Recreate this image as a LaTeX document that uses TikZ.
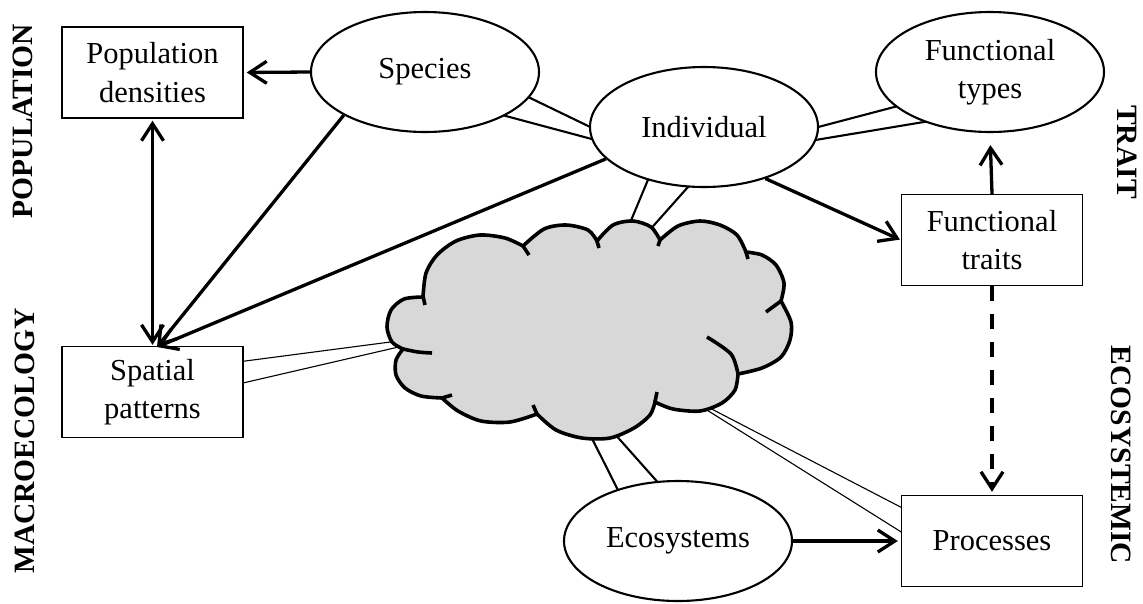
\documentclass[tikz,border=0pt]{standalone}
\usepackage{fontspec}
\setmainfont{Liberation Serif}
\usetikzlibrary{arrows.meta,shapes.geometric,calc}
\begin{document}
\begin{tikzpicture}[x=1pt,y=-1pt,
  txt/.style={font=\fontsize{30.5}{38.5}\selectfont, align=center},
  bx/.style={txt, draw, line width=1.4pt, fill=white, minimum width=181pt, minimum height=91pt, inner sep=0pt},
  ell/.style={txt, ellipse, draw, line width=2.1pt, fill=white, minimum width=228pt, minimum height=120pt, inner sep=0pt},
  side/.style={font=\fontsize{29.5}{35}\selectfont\bfseries, inner sep=0pt},
  arr/.style={line width=3.3pt, -{Straight Barb[length=17pt,width=22pt]}},
  darr/.style={line width=3.3pt, {Straight Barb[length=17pt,width=22pt]}-{Straight Barb[length=17pt,width=22pt]}},
  tailE/.style={draw, fill=white, line width=2.1pt, line join=miter},
  tailB/.style={draw, fill=white, line width=1.1pt, line join=miter},
  cloudline/.style={line width=3.6pt},
]
\fill[white] (0,0) rectangle (1143,603);
\useasboundingbox (0,0) rectangle (1143,603);

% callout tails
\filldraw[tailE] (493,80) -- (644,153) -- (461,104) -- cycle;
\filldraw[tailE] (660,151) -- (607,278) -- (712,160) -- cycle;
\filldraw[tailE] (936,96) -- (689,161) -- (972,114) -- cycle;
\filldraw[tailE] (630,514) -- (557,369) -- (678,505) -- cycle;
\filldraw[tailB] (230,363) -- (459,333) -- (230,386) -- cycle;
\filldraw[tailB] (914,514) -- (675,390) -- (914,540) -- cycle;

% boxes
\node[bx] (Pop) at (152.5,72.5) {Population\\densities};
\node[bx] (Spa) at (152.5,392) {Spatial\\patterns};
\node[bx] (FTr) at (992,240) {Functional\\traits};
\node[bx] (Proc) at (992,541) {Processes};

% ellipses
\node[ell] (Sp) at (425,72) {Species};
\node[ell] (Ind) at (704,127) {Individual};
\node[ell] (FTy) at (990,72) {Functional\\types};
\node[ell] (Eco) at (678,541) {Ecosystems};

% cloud
\filldraw[cloudline, fill={rgb,255:red,216;green,216;blue,216}]
  plot[smooth] coordinates {(423,297) (404,299) (391,310) (387,327) (392,342) (403,349)}
  -- plot[smooth] coordinates {(403,349) (396,360) (396,375) (405,388) (421,396) (442,398)}
  -- plot[smooth] coordinates {(442,398) (458,411) (481,421) (510,422) (537,414)}
  -- plot[smooth] coordinates {(537,414) (556,430) (582,438) (610,438) (634,428) (650,415) (655,402)}
  -- plot[smooth] coordinates {(655,402) (673,409) (700,411) (722,403) (735,390) (738,374)}
  -- plot[smooth] coordinates {(738,374) (762,368) (781,357) (790,340) (791,322) (781,301)}
  -- plot[smooth] coordinates {(781,301) (784,283) (776,265) (762,255) (746,252)}
  -- plot[smooth] coordinates {(746,252) (737,235) (720,225) (700,221) (678,226) (660,240)}
  -- plot[smooth] coordinates {(660,240) (651,227) (633,221) (613,225) (597,241)}
  -- plot[smooth] coordinates {(597,241) (588,230) (566,225) (544,229) (523,246)}
  -- plot[smooth] coordinates {(523,246) (505,238) (480,235) (456,241) (437,255) (426,273) (423,297)}
  -- cycle;
\draw[cloudline] (423,296) -- (425,305);
\draw[cloudline] plot[smooth] coordinates {(403,349) (418,352) (432,353)};
\draw[cloudline] (442,398) -- (452,395);
\draw[cloudline] (537,414) -- (533,405);
\draw[cloudline] (655,402) -- (657,392);
\draw[cloudline] plot[smooth] coordinates {(738,374) (731,354) (707,337)};
\draw[cloudline] (781,301) -- (766,312);
\draw[cloudline] (746,252) -- (748,259);
\draw[cloudline] (660,240) -- (658,246);
\draw[cloudline] (597,241) -- (599,248);
\draw[cloudline] (523,246) -- (529,255);

% connectors
\coordinate (spHit) at (157,347);
\draw[arr, shorten >=3pt] (Sp.west) -- (Pop.east);
\draw[darr, shorten <=2pt, shorten >=1pt] (Pop.south) -- (Spa.north);
\draw[arr] (Sp.208) -- (spHit);
\draw[arr] (Ind.198) -- (spHit);
\draw[arr, shorten >=1pt] (Ind.320) -- (FTr.west);
\draw[arr, shorten >=12pt] (FTr.north) -- (FTy.south);
\draw[arr, dash pattern=on 15pt off 13pt, shorten >=3pt] (FTr.south) -- (Proc.north);
\draw[arr, shorten >=3pt] (Eco.east) -- (Proc.west);

% side labels
\node[side, rotate=90] (lPop) at (23,121) {POPULATION};
\node[side, rotate=90] (lMac) at (25,441) {MACROECOLOGY};
\node[side, rotate=-90] (lTra) at (1127,152) {TRAIT};
\node[side, rotate=-90] (lEco) at (1121,455) {ECOSYSTEMIC};
\end{tikzpicture}
\end{document}
